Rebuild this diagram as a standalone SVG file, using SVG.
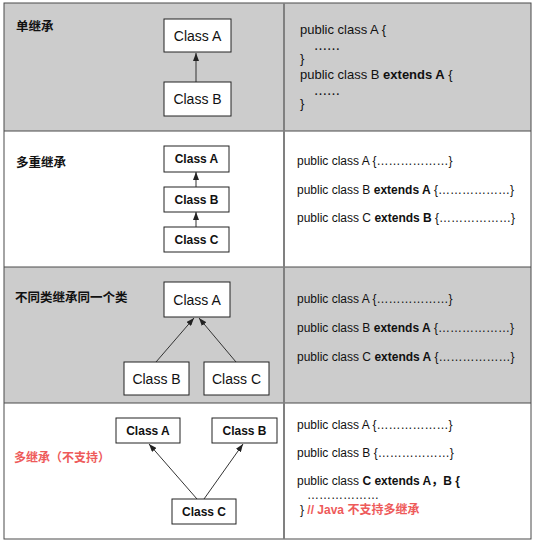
<svg xmlns="http://www.w3.org/2000/svg" width="536" height="545" viewBox="0 0 536 545">
<style>
  .bg{fill:#fff}
  .gray{fill:#cccccc}
  .grid{stroke:#4a4a4a;stroke-width:1;fill:none}
  .div{stroke:#808080;stroke-width:2}
  .box{fill:#fff;stroke:#222;stroke-width:1}
  .reg{font-family:"Liberation Sans","Noto Sans CJK SC",sans-serif;font-size:14px;fill:#111;text-anchor:middle}
  .bld{font-family:"Liberation Sans","Noto Sans CJK SC",sans-serif;font-size:12px;font-weight:bold;fill:#111;text-anchor:middle}
  .lbl{font-family:"Liberation Sans","Noto Sans CJK SC",sans-serif;font-size:12.5px;font-weight:bold;fill:#111}
  .red{fill:#ee5a5a}
  .code1{font-family:"Liberation Sans","Noto Sans CJK SC",sans-serif;font-size:13px;fill:#111}
  .code{font-family:"Liberation Sans","Noto Sans CJK SC",sans-serif;font-size:12px;fill:#111}
  .cjk{font-family:"Noto Sans CJK SC",sans-serif}
  .b{font-weight:bold}
  .edge{stroke:#333;stroke-width:1;fill:none;marker-end:url(#arr)}
</style>
<defs>
  <marker id="arr" markerUnits="userSpaceOnUse" markerWidth="8" markerHeight="6" refX="8" refY="3" orient="auto">
    <path d="M0,0 L8,3 L0,6 z" fill="#222"/>
  </marker>
</defs>
<rect class="bg" x="0" y="0" width="536" height="545"/>
<g id="table">
  <rect class="gray" x="4" y="3" width="527" height="128"/>
  <rect class="gray" x="4" y="267" width="527" height="136"/>
  <rect class="grid" x="4" y="3" width="527" height="536"/>
  <line class="grid" x1="4" y1="131" x2="531" y2="131"/>
  <line class="grid" x1="4" y1="267" x2="531" y2="267"/>
  <line class="grid" x1="4" y1="403" x2="531" y2="403"/>
  <line class="div" x1="284" y1="3" x2="284" y2="539"/>
</g>
<g id="labels">
  <text class="lbl" x="16" y="31">单继承</text>
  <text class="lbl" x="16" y="167">多重继承</text>
  <text class="lbl" x="15" y="302">不同类继承同一个类</text>
  <text class="lbl red" x="14" y="462" style="font-size:12px">多继承（不支持）</text>
</g>
<g id="connectors">
  <line class="edge" x1="196" y1="82" x2="196" y2="53"/>
  <line class="edge" x1="196" y1="187" x2="196" y2="172"/>
  <line class="edge" x1="196" y1="227" x2="196" y2="212"/>
  <line class="edge" x1="156" y1="362" x2="194" y2="318"/>
  <line class="edge" x1="236" y1="362" x2="199" y2="318"/>
  <line class="edge" x1="197" y1="499" x2="149" y2="444"/>
  <line class="edge" x1="204" y1="499" x2="243" y2="444"/>
</g>
<g id="r1-classA"><rect class="box" x="164" y="19" width="67" height="33"/><text class="reg" x="197.5" y="40.5">Class A</text></g>
<g id="r1-classB"><rect class="box" x="164" y="82" width="67" height="34"/><text class="reg" x="197.5" y="104">Class B</text></g>
<g id="r2-classA"><rect class="box" x="164" y="146" width="65" height="26"/><text class="bld" x="196.5" y="163.3">Class A</text></g>
<g id="r2-classB"><rect class="box" x="164" y="187" width="65" height="25"/><text class="bld" x="196.5" y="203.8">Class B</text></g>
<g id="r2-classC"><rect class="box" x="164" y="227" width="65" height="25"/><text class="bld" x="196.5" y="243.8">Class C</text></g>
<g id="r3-classA"><rect class="box" x="164" y="282" width="66" height="35"/><text class="reg" x="197" y="304.5">Class A</text></g>
<g id="r3-classB"><rect class="box" x="124" y="362" width="65" height="33"/><text class="reg" x="156.5" y="383.5">Class B</text></g>
<g id="r3-classC"><rect class="box" x="204" y="362" width="65" height="33"/><text class="reg" x="236.5" y="383.5">Class C</text></g>
<g id="r4-classA"><rect class="box" x="116" y="418" width="64" height="25"/><text class="bld" x="148" y="434.8">Class A</text></g>
<g id="r4-classB"><rect class="box" x="212" y="418" width="65" height="25"/><text class="bld" x="244.5" y="434.8">Class B</text></g>
<g id="r4-classC"><rect class="box" x="172" y="499" width="64" height="25"/><text class="bld" x="204" y="515.8">Class C</text></g>
<g id="code1" class="code1">
  <text x="300" y="34">public class A {</text>
  <text x="314" y="54" class="cjk">……</text>
  <text x="300" y="63">}</text>
  <text x="300" y="79">public class B <tspan class="b">extends A</tspan> {</text>
  <text x="314" y="99" class="cjk">……</text>
  <text x="300" y="108">}</text>
</g>
<g id="code2" class="code">
  <text x="297" y="165">public class A {………………}</text>
  <text x="297" y="194">public class B <tspan class="b">extends A</tspan> {………………}</text>
  <text x="297" y="222">public class C <tspan class="b">extends B</tspan> {………………}</text>
</g>
<g id="code3" class="code">
  <text x="297" y="303">public class A {………………}</text>
  <text x="297" y="332">public class B <tspan class="b">extends A</tspan> {………………}</text>
  <text x="297" y="361">public class C <tspan class="b">extends A</tspan> {………………}</text>
</g>
<g id="code4" class="code">
  <text x="297" y="429">public class A {………………}</text>
  <text x="297" y="457">public class B {………………}</text>
  <text x="297" y="485">public class <tspan class="b">C extends A，B {</tspan></text>
  <text x="307" y="499">………………</text>
  <text x="300" y="514">}<tspan class="b red"> // Java 不支持多继承</tspan></text>
</g>
</svg>
